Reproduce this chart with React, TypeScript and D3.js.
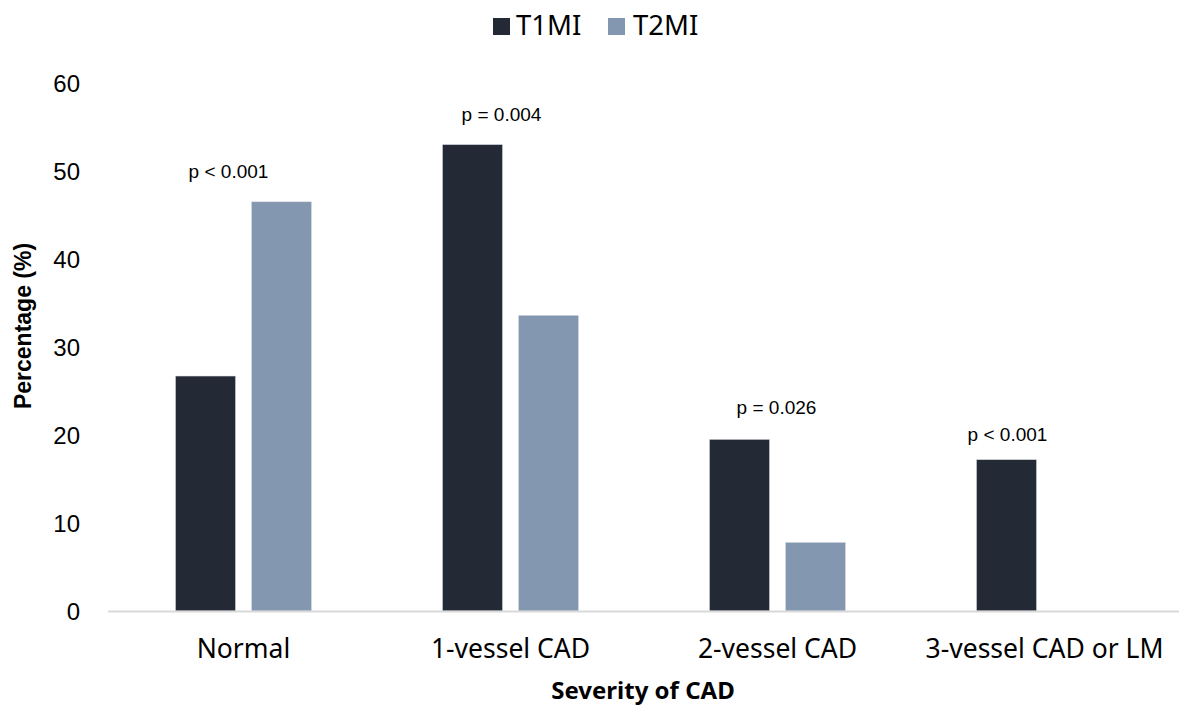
import React from "react";
import * as d3 from "d3";

const categories = ["Normal", "1-vessel CAD", "2-vessel CAD", "3-vessel CAD or LM"];
const seriesNames = ["T1MI", "T2MI"];
const t1mi = [26.7, 53.0, 19.5, 17.2];
const t2mi = [46.5, 33.6, 7.8, 0];
const pLabels = ["p < 0.001", "p = 0.004", "p = 0.026", "p < 0.001"];
const yTicks = [0, 10, 20, 30, 40, 50, 60];
const colors = ["#242a35", "#8497b0"];

// annotation horizontal nudges relative to group centre (pixels)
const pNudge = [-15, -9, -1, -37];
const pGap = [24, 24, 25, 19];

const W = 1179;
const H = 711;
const margin = { left: 110, right: 1, top: 83, bottom: 100 };

export default function App() {
  const x0 = d3.scaleBand<string>().domain(categories).range([margin.left, W - margin.right]);
  const bw = x0.bandwidth();
  const x1 = d3
    .scaleBand<string>()
    .domain(seriesNames)
    .range([bw / 2 - 68, bw / 2 + 68])
    .paddingInner(0.2105);
  const y = d3.scaleLinear().domain([0, 60]).range([611, 83]);
  const values = [t1mi, t2mi];
  const sans = "'Noto Sans', 'Open Sans', sans-serif";
  const arial = "'Liberation Sans', Arial, sans-serif";

  return (
    <svg width={W} height={H} style={{ position: "absolute", left: 0, top: 0, background: "#fff" }}>
      {/* legend */}
      <g>
        <rect x={493} y={18} width={17} height={17} fill={colors[0]} />
        <text x={516} y={35} fontFamily={sans} fontSize={27.5} fill="#000">T1MI</text>
        <rect x={608} y={18} width={17} height={17} fill={colors[1]} />
        <text x={633} y={35} fontFamily={sans} fontSize={27.5} fill="#000">T2MI</text>
      </g>
      {/* y ticks */}
      {yTicks.map((t) => (
        <text key={t} x={80} y={y(t)} dy="0.36em" textAnchor="end" fontFamily={arial} fontSize={24} fill="#000">
          {t}
        </text>
      ))}
      <text
        transform={`translate(31,326) rotate(-90)`}
        textAnchor="middle"
        fontFamily={arial}
        fontWeight="bold"
        fontSize={23}
        fill="#000"
      >
        Percentage (%)
      </text>
      {/* bars */}
      {categories.map((c, i) => (
        <g key={c} transform={`translate(${x0(c)},0)`}>
          {seriesNames.map((s, j) =>
            values[j][i] > 0 ? (
              <rect
                key={s}
                x={x1(s)}
                y={y(values[j][i])}
                width={x1.bandwidth()}
                height={y(0) - y(values[j][i])}
                fill={colors[j]}
                stroke="#d9dde3"
                strokeWidth={0.5}
              />
            ) : null
          )}
        </g>
      ))}
      {/* axis line */}
      <line x1={108} x2={W} y1={611.5} y2={611.5} stroke="#d9d9d9" strokeWidth={2} />
      {/* p labels */}
      {categories.map((c, i) => {
        const top = Math.max(t1mi[i], t2mi[i]);
        return (
          <text
            key={c}
            x={(x0(c) as number) + bw / 2 + pNudge[i]}
            y={y(top) - pGap[i]}
            textAnchor="middle"
            fontFamily={arial}
            fontSize={19}
            fill="#000"
          >
            {pLabels[i]}
          </text>
        );
      })}
      {/* x labels */}
      {categories.map((c) => (
        <text
          key={c}
          x={(x0(c) as number) + bw / 2}
          y={658}
          textAnchor="middle"
          fontFamily={sans}
          fontSize={26.5}
          fill="#000"
        >
          {c}
        </text>
      ))}
      <text x={643} y={699} textAnchor="middle" fontFamily={sans} fontWeight="bold" fontSize={24} fill="#000">
        Severity of CAD
      </text>
    </svg>
  );
}
